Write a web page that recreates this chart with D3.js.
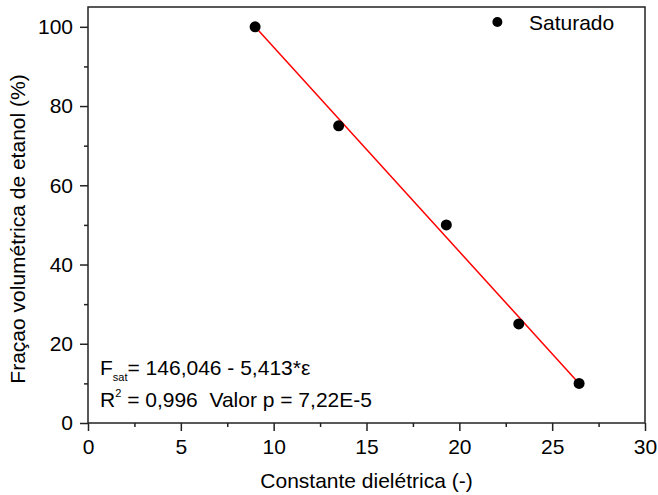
<!DOCTYPE html>
<html>
<head>
<script src="https://cdnjs.cloudflare.com/ajax/libs/d3/7.8.5/d3.min.js"></script>
<style>
body { margin: 0; background: #fff; }
text { font-family: "Liberation Sans", Arial, sans-serif; fill: #000; }
</style>
</head>
<body>
<div id="chart"></div>
<script>
// measured points (constante dielétrica vs fração de etanol)
var dielectric = [9.0, 13.5, 19.3, 23.2, 26.45];
var ethanolFrac = [100, 75, 50, 25, 10];
// fitted line end points, as drawn on the figure
var fitX = [9.0, 26.45];
var fitY = [100, 10];
var xTicks = [0, 5, 10, 15, 20, 25, 30];
var yTicks = [0, 20, 40, 60, 80, 100];
var legendLabel = "Saturado";

var W = 658, H = 495;
var margin = {top: 7, right: 13, bottom: 72, left: 88};
var width = W - margin.left - margin.right;
var height = H - margin.top - margin.bottom;
var fs = "21px";

var svg = d3.select("#chart").append("svg")
	.attr("width", W)
	.attr("height", H);
var g = svg.append("g")
	.attr("transform", "translate(" + margin.left + "," + margin.top + ")");

var x = d3.scaleLinear().domain([0, 30]).range([0, width]);
var y = d3.scaleLinear().domain([0, 105]).range([height, 0]);

// minor ticks
g.append("g")
	.attr("transform", "translate(0," + height + ")")
	.call(d3.axisBottom(x).tickValues(d3.range(2.5, 30, 5)).tickSize(4).tickFormat(""))
	.call(function(a) { a.select(".domain").remove(); });
g.append("g")
	.call(d3.axisLeft(y).tickValues(d3.range(10, 105, 20)).tickSize(4).tickFormat(""))
	.call(function(a) { a.select(".domain").remove(); });

// major axes
g.append("g")
	.attr("transform", "translate(0," + height + ")")
	.call(d3.axisBottom(x).tickValues(xTicks).tickSize(8).tickPadding(8).tickFormat(d3.format("d")));
g.append("g")
	.call(d3.axisLeft(y).tickValues(yTicks).tickSize(8).tickPadding(7).tickFormat(d3.format("d")));

g.selectAll(".tick line").attr("stroke", "#222").attr("stroke-width", 1.5);
g.selectAll(".domain").remove();
g.selectAll(".tick text").style("font-size", fs).attr("fill", "#000");

// frame
g.append("rect")
	.attr("width", width)
	.attr("height", height)
	.attr("fill", "none")
	.attr("stroke", "#222")
	.attr("stroke-width", 1.5);

// fit line
g.append("line")
	.attr("x1", x(fitX[0])).attr("y1", y(fitY[0]))
	.attr("x2", x(fitX[1])).attr("y2", y(fitY[1]))
	.attr("stroke", "#f00")
	.attr("stroke-width", 1.5);

// points
g.selectAll(".pt")
	.data(dielectric)
	.enter()
	.append("circle")
	.attr("class", "pt")
	.attr("cx", function(d) { return x(d); })
	.attr("cy", function(d, i) { return y(ethanolFrac[i]); })
	.attr("r", 5.5)
	.attr("fill", "#000");

// legend
g.append("circle")
	.attr("cx", x(22.05)).attr("cy", 22 - margin.top)
	.attr("r", 5)
	.attr("fill", "#000");
g.append("text")
	.attr("x", x(23.75)).attr("y", 30 - margin.top)
	.style("font-size", fs)
	.text(legendLabel);

// equation text
var eq1 = g.append("text")
	.attr("x", 12).attr("y", 375 - margin.top)
	.style("font-size", fs);
eq1.append("tspan").text("F");
eq1.append("tspan").attr("dy", 6).style("font-size", "11px").text("sat");
eq1.append("tspan").attr("dy", -6).text("= 146,046 - 5,413*\u03b5");

var eq2 = g.append("text")
	.attr("x", 12).attr("y", 407 - margin.top)
	.style("font-size", fs)
	.style("white-space", "pre");
eq2.append("tspan").text("R");
eq2.append("tspan").attr("dy", -10).style("font-size", "11px").text("2");
eq2.append("tspan").attr("dy", 10).text(" = 0,996  Valor p = 7,22E-5");

// axis titles
svg.append("text")
	.attr("x", margin.left + width / 2)
	.attr("y", 488)
	.attr("text-anchor", "middle")
	.style("font-size", fs)
	.text("Constante dielétrica (-)");
svg.append("text")
	.attr("transform", "translate(25,229) rotate(-90)")
	.attr("text-anchor", "middle")
	.style("font-size", fs)
	.text("Fraçao volumétrica de etanol (%)");
</script>
</body>
</html>
